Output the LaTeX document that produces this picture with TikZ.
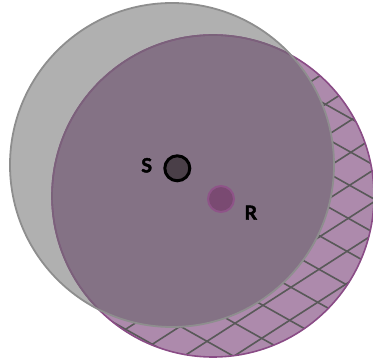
\documentclass[tikz,border=0pt]{standalone}
\usepackage{fontspec}
\setmainfont{Lato}
\newfontfamily\lblfont[FakeBold=2.5]{Lato Bold}
\definecolor{grayfill}{HTML}{B0B0B0}
\definecolor{grayline}{HTML}{8E8E8E}
\definecolor{purpfill}{HTML}{AD8AAC}
\definecolor{purpline}{HTML}{8A4C86}
\definecolor{purpinner}{HTML}{7A627A}
\definecolor{overlap}{HTML}{847285}
\definecolor{hatchcol}{HTML}{595959}
\definecolor{sfill}{HTML}{4A3F48}
\definecolor{rfill}{HTML}{7A4A72}
\definecolor{rline}{HTML}{8E5488}
\tikzset{
  hatchline/.style={draw=hatchcol, line width=1.6pt},
  lbl/.style={font=\lblfont\fontsize{19.5}{19.5}\selectfont, inner sep=0pt},
  dot/.style={circle, inner sep=0pt}
}
\begin{document}
\begin{tikzpicture}[x=1pt,y=1pt]
\useasboundingbox (0,0) rectangle (373,362);
% purple circle
\fill[purpfill] (213,166) circle (161);
\begin{scope}
  \clip (213,166) circle (161);
  \foreach \k in {-20,...,20} {
    \draw[hatchline] ({261.7+\k*26.7-20*28},{23.7-\k*15-20*18}) -- ({261.7+\k*26.7+20*28},{23.7-\k*15+20*18});
    \draw[hatchline] ({261.7+\k*28-20*26.7},{23.7+\k*18+20*15}) -- ({261.7+\k*28+20*26.7},{23.7+\k*18-20*15});
  }
\end{scope}
% gray circle
\fill[grayfill] (172,197) circle (162);
% overlap
\begin{scope}
  \clip (172,197) circle (162);
  \fill[overlap] (213,166) circle (161);
\end{scope}
\draw[purpline, line width=1.6pt] (213,166) circle (161);
\begin{scope}
  \clip (172,197) circle (161);
  \draw[purpinner, line width=1.6pt] (213,166) circle (161);
\end{scope}
\draw[grayline, line width=1.8pt] (172,197) circle (162);
% dots
\node[dot, fill=sfill, draw=black, line width=3pt, minimum size=25pt] (S) at (177.3,193.7) {};
\node[dot, fill=rfill, draw=rline, line width=2pt, minimum size=26pt] (R) at (221,163) {};
\node[lbl] (Slbl) at (146.7,196.7) {S};
\node[lbl] (Rlbl) at (250.7,149.3) {R};
\end{tikzpicture}
\end{document}
